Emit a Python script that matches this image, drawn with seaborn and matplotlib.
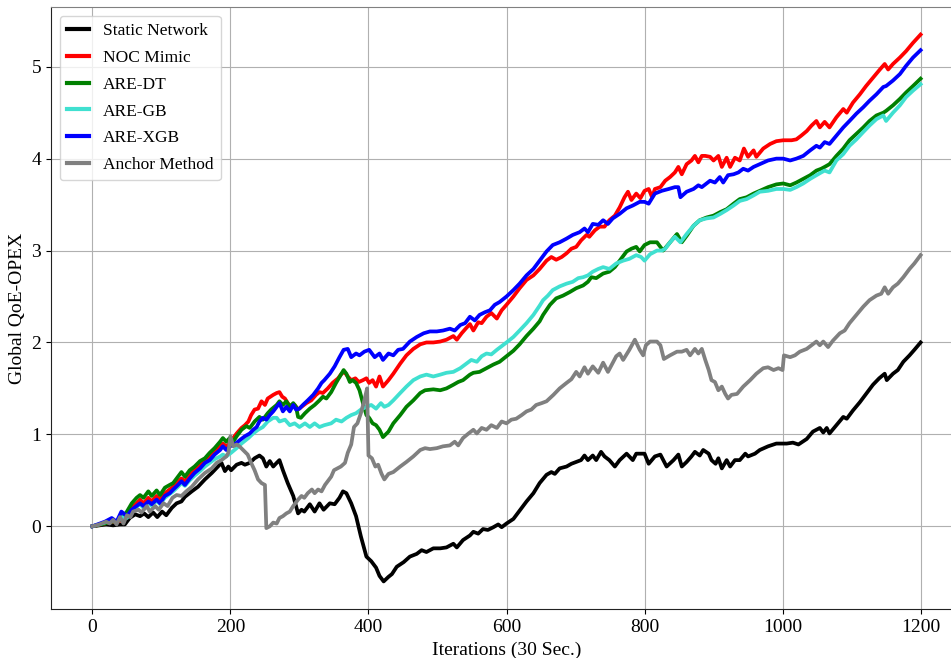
import matplotlib
matplotlib.use("Agg")
import matplotlib.pyplot as plt
import pandas as pd
import seaborn as sns

# ---- data (iteration, value) ----
static_network = [(0,0),(10,0.01),(20,0.02),(30,0.01),(40,0.02),(47,0.02),(54,0.09),(62,0.13),(69,0.11),(75,0.14),(81,0.10),(88,0.15),(94,0.10),(101,0.16),(107,0.12),(115,0.20),(122,0.25),(129,0.27),(134,0.32),(144,0.38),(153,0.43),(163,0.51),(173,0.58),(182,0.65),(187,0.69),(192,0.60),(197,0.65),(201,0.61),(209,0.67),(216,0.69),(221,0.67),(228,0.69),(235,0.74),(242,0.77),(247,0.74),(252,0.65),(257,0.71),(262,0.65),(267,0.69),(271,0.72),(276,0.61),(283,0.47),(291,0.33),(298,0.14),(303,0.18),(307,0.16),(315,0.24),(322,0.16),(329,0.25),(335,0.18),(344,0.25),(351,0.24),(358,0.31),(363,0.38),(368,0.36),(375,0.25),(382,0.11),(389,-0.11),(397,-0.33),(404,-0.38),(411,-0.45),(416,-0.54),(422,-0.60),(429,-0.55),(434,-0.52),(441,-0.44),(451,-0.39),(460,-0.33),(470,-0.30),(477,-0.26),(484,-0.28),(494,-0.24),(504,-0.24),(513,-0.23),(523,-0.19),(528,-0.23),(537,-0.15),(547,-0.10),(552,-0.06),(559,-0.08),(566,-0.03),(573,-0.04),(581,-0.01),(588,0.02),(593,-0.01),(600,0.03),(610,0.08),(619,0.17),(629,0.27),(639,0.36),(648,0.47),(658,0.56),(665,0.59),(670,0.57),(677,0.63),(687,0.65),(694,0.68),(701,0.70),(708,0.72),(713,0.77),(718,0.72),(725,0.77),(730,0.72),(737,0.81),(742,0.76),(749,0.72),(757,0.65),(764,0.72),(774,0.79),(783,0.72),(788,0.79),(800,0.79),(806,0.68),(815,0.76),(823,0.78),(832,0.65),(842,0.72),(849,0.78),(854,0.65),(861,0.70),(868,0.76),(873,0.81),(880,0.77),(885,0.83),(893,0.79),(897,0.72),(903,0.68),(907,0.74),(912,0.63),(919,0.72),(924,0.65),(931,0.72),(938,0.72),(946,0.79),(950,0.76),(960,0.79),(967,0.83),(979,0.87),(991,0.90),(1006,0.90),(1015,0.91),(1023,0.89),(1035,0.95),(1044,1.03),(1054,1.07),(1059,1.02),(1064,1.07),(1068,1.01),(1078,1.10),(1088,1.19),(1093,1.17),(1102,1.26),(1112,1.35),(1121,1.44),(1131,1.54),(1140,1.61),(1148,1.66),(1151,1.59),(1160,1.66),(1167,1.70),(1175,1.79),(1184,1.86),(1191,1.92),(1200,2.00)]

noc_mimic = [(0,0),(18,0.03),(28,0.05),(35,0.04),(42,0.07),(50,0.13),(57,0.20),(64,0.25),(69,0.29),(74,0.25),(81,0.31),(86,0.27),(93,0.33),(98,0.29),(105,0.36),(112,0.40),(117,0.43),(124,0.49),(129,0.52),(134,0.49),(141,0.56),(148,0.61),(156,0.67),(163,0.71),(170,0.76),(177,0.81),(185,0.87),(189,0.90),(194,0.87),(199,0.90),(204,0.96),(209,1.01),(216,1.07),(221,1.10),(226,1.14),(230,1.21),(235,1.27),(240,1.28),(245,1.36),(250,1.32),(254,1.39),(262,1.43),(267,1.45),(271,1.46),(275,1.41),(279,1.39),(283,1.34),(288,1.30),(293,1.32),(298,1.27),(303,1.30),(310,1.34),(317,1.37),(324,1.43),(329,1.46),(334,1.45),(341,1.50),(348,1.56),(356,1.61),(361,1.66),(365,1.68),(370,1.63),(375,1.59),(381,1.61),(386,1.57),(392,1.59),(397,1.61),(401,1.56),(406,1.59),(411,1.52),(416,1.63),(421,1.52),(429,1.59),(436,1.66),(446,1.77),(455,1.86),(465,1.93),(475,1.98),(484,2.00),(494,2.00),(504,2.01),(513,2.03),(523,2.07),(528,2.03),(535,2.10),(542,2.16),(547,2.20),(552,2.13),(559,2.22),(564,2.21),(571,2.28),(578,2.32),(586,2.26),(593,2.35),(600,2.41),(610,2.50),(619,2.59),(629,2.68),(639,2.73),(648,2.80),(658,2.89),(665,2.93),(672,2.90),(680,2.93),(687,2.97),(694,3.02),(701,3.04),(708,3.11),(716,3.17),(720,3.15),(728,3.22),(735,3.26),(742,3.26),(749,3.33),(757,3.38),(764,3.47),(771,3.58),(776,3.64),(781,3.55),(788,3.62),(794,3.57),(800,3.65),(806,3.67),(811,3.58),(815,3.67),(823,3.69),(830,3.76),(837,3.80),(844,3.85),(849,3.91),(854,3.83),(861,3.94),(868,3.98),(873,4.03),(878,3.96),(883,4.03),(888,4.03),(895,4.02),(900,3.98),(907,4.03),(912,3.91),(919,4.01),(924,3.91),(931,4.01),(938,3.98),(944,4.11),(950,4.02),(958,4.09),(962,4.02),(972,4.11),(982,4.16),(991,4.19),(1001,4.20),(1013,4.20),(1020,4.21),(1027,4.25),(1035,4.30),(1042,4.36),(1049,4.41),(1054,4.34),(1061,4.40),(1068,4.34),(1078,4.45),(1088,4.54),(1093,4.50),(1102,4.61),(1112,4.70),(1121,4.79),(1131,4.88),(1141,4.97),(1148,5.03),(1153,4.97),(1160,5.03),(1170,5.10),(1179,5.17),(1189,5.26),(1200,5.35)]

are_dt = [(0,0),(18,0.03),(28,0.05),(35,0.05),(42,0.08),(50,0.16),(57,0.25),(64,0.31),(69,0.34),(74,0.31),(81,0.38),(86,0.33),(93,0.39),(98,0.34),(105,0.42),(112,0.45),(117,0.47),(124,0.54),(129,0.59),(134,0.54),(141,0.61),(148,0.65),(156,0.71),(163,0.74),(170,0.80),(177,0.85),(185,0.92),(189,0.96),(194,0.92),(199,0.96),(204,0.92),(209,0.98),(216,1.05),(223,1.09),(228,1.07),(235,1.14),(242,1.19),(247,1.16),(254,1.23),(259,1.27),(267,1.32),(271,1.36),(276,1.32),(281,1.36),(286,1.30),(291,1.34),(295,1.30),(298,1.19),(302,1.18),(308,1.23),(315,1.28),(322,1.32),(329,1.37),(334,1.41),(339,1.39),(346,1.46),(353,1.56),(360,1.65),(364,1.70),(368,1.66),(373,1.57),(377,1.59),(382,1.56),(387,1.48),(392,1.34),(397,1.21),(401,1.18),(406,1.12),(411,1.10),(416,1.05),(421,0.97),(429,1.03),(436,1.12),(446,1.21),(455,1.30),(465,1.37),(475,1.45),(482,1.48),(494,1.49),(504,1.48),(513,1.50),(523,1.54),(530,1.57),(537,1.59),(547,1.65),(552,1.67),(561,1.68),(571,1.72),(581,1.76),(590,1.79),(600,1.85),(610,1.91),(619,1.98),(629,2.07),(639,2.15),(648,2.23),(653,2.30),(663,2.41),(672,2.48),(682,2.51),(692,2.55),(701,2.59),(711,2.62),(718,2.66),(723,2.71),(730,2.70),(740,2.75),(749,2.77),(757,2.82),(764,2.89),(774,2.99),(781,3.02),(788,3.04),(793,2.99),(800,3.06),(808,3.09),(818,3.09),(827,3.00),(837,3.09),(847,3.18),(854,3.09),(861,3.16),(871,3.27),(880,3.33),(890,3.36),(900,3.38),(910,3.42),(919,3.45),(929,3.51),(938,3.56),(948,3.58),(958,3.62),(967,3.65),(979,3.69),(991,3.72),(1001,3.73),(1011,3.71),(1020,3.74),(1030,3.78),(1040,3.82),(1049,3.87),(1056,3.89),(1061,3.91),(1068,3.94),(1078,4.03),(1088,4.11),(1097,4.20),(1107,4.27),(1117,4.34),(1126,4.41),(1136,4.47),(1146,4.50),(1150,4.52),(1160,4.58),(1170,4.65),(1179,4.72),(1189,4.79),(1200,4.87)]

are_gb = [(0,0),(18,0.04),(28,0.07),(35,0.05),(42,0.10),(50,0.09),(57,0.17),(64,0.21),(69,0.24),(74,0.20),(81,0.26),(86,0.22),(93,0.28),(98,0.24),(105,0.31),(112,0.35),(117,0.38),(124,0.43),(129,0.47),(134,0.44),(141,0.50),(148,0.55),(156,0.60),(163,0.65),(170,0.69),(177,0.73),(185,0.76),(189,0.78),(194,0.76),(201,0.80),(209,0.85),(216,0.90),(226,0.96),(233,1.01),(240,1.05),(247,1.08),(254,1.14),(262,1.18),(267,1.18),(271,1.14),(279,1.16),(286,1.10),(293,1.12),(300,1.08),(308,1.12),(315,1.08),(322,1.12),(329,1.08),(336,1.10),(346,1.12),(353,1.16),(361,1.14),(368,1.18),(375,1.21),(382,1.23),(389,1.27),(397,1.30),(404,1.32),(411,1.28),(418,1.34),(423,1.30),(429,1.32),(436,1.37),(446,1.45),(455,1.52),(465,1.59),(475,1.63),(484,1.65),(494,1.63),(504,1.65),(513,1.67),(523,1.68),(533,1.72),(542,1.77),(549,1.81),(557,1.79),(564,1.85),(571,1.88),(578,1.87),(586,1.92),(593,1.96),(600,2.00),(610,2.06),(619,2.13),(629,2.21),(639,2.30),(648,2.40),(653,2.46),(660,2.51),(667,2.57),(677,2.61),(687,2.64),(696,2.66),(704,2.70),(711,2.71),(718,2.73),(725,2.77),(733,2.80),(740,2.82),(749,2.80),(759,2.86),(769,2.89),(778,2.91),(788,2.95),(795,2.93),(800,2.89),(808,2.96),(818,3.00),(825,3.00),(830,3.02),(837,3.09),(844,3.15),(852,3.09),(861,3.18),(871,3.27),(880,3.33),(890,3.35),(900,3.36),(910,3.40),(919,3.44),(929,3.49),(938,3.54),(948,3.56),(958,3.60),(967,3.64),(979,3.65),(991,3.67),(1001,3.67),(1011,3.66),(1020,3.69),(1030,3.73),(1040,3.78),(1049,3.82),(1056,3.85),(1061,3.87),(1068,3.85),(1078,3.98),(1088,4.05),(1097,4.14),(1107,4.21),(1117,4.29),(1126,4.36),(1136,4.43),(1146,4.47),(1150,4.41),(1160,4.50),(1170,4.58),(1179,4.67),(1189,4.74),(1200,4.81)]

are_xgb = [(0,0),(18,0.05),(28,0.09),(35,0.05),(42,0.16),(50,0.11),(57,0.18),(64,0.22),(69,0.25),(74,0.22),(81,0.27),(86,0.24),(93,0.29),(98,0.25),(105,0.33),(112,0.36),(117,0.40),(124,0.45),(129,0.49),(134,0.45),(141,0.52),(148,0.58),(156,0.63),(163,0.69),(170,0.72),(177,0.78),(185,0.83),(189,0.87),(194,0.83),(199,0.87),(206,0.89),(214,0.94),(221,0.98),(228,1.01),(233,1.05),(238,1.08),(242,1.14),(247,1.18),(252,1.16),(257,1.21),(262,1.25),(267,1.30),(271,1.34),(276,1.25),(281,1.30),(286,1.25),(291,1.32),(295,1.27),(300,1.28),(305,1.32),(312,1.37),(320,1.43),(327,1.50),(332,1.56),(336,1.59),(344,1.66),(351,1.74),(358,1.84),(364,1.92),(370,1.93),(375,1.84),(382,1.88),(387,1.86),(394,1.90),(401,1.92),(409,1.84),(416,1.88),(421,1.81),(429,1.88),(436,1.86),(443,1.92),(450,1.93),(460,2.01),(470,2.06),(480,2.10),(489,2.12),(499,2.12),(508,2.13),(518,2.15),(525,2.13),(533,2.19),(540,2.21),(547,2.28),(554,2.24),(561,2.30),(569,2.33),(576,2.35),(583,2.41),(590,2.44),(600,2.50),(610,2.57),(619,2.64),(629,2.73),(639,2.80),(648,2.89),(658,2.99),(667,3.06),(677,3.09),(687,3.13),(696,3.17),(706,3.20),(713,3.24),(718,3.20),(725,3.29),(733,3.28),(740,3.33),(747,3.29),(754,3.35),(764,3.40),(774,3.46),(783,3.49),(793,3.53),(800,3.53),(806,3.51),(815,3.62),(825,3.65),(835,3.67),(844,3.69),(849,3.69),(852,3.58),(861,3.64),(871,3.67),(878,3.71),(883,3.69),(890,3.73),(895,3.76),(902,3.74),(909,3.80),(914,3.74),(921,3.82),(929,3.83),(936,3.85),(943,3.89),(950,3.87),(958,3.91),(967,3.94),(979,3.98),(991,4.00),(1001,4.00),(1011,3.98),(1020,4.00),(1030,4.03),(1040,4.09),(1049,4.14),(1054,4.12),(1061,4.18),(1068,4.16),(1078,4.25),(1088,4.34),(1097,4.41),(1107,4.49),(1117,4.56),(1126,4.63),(1136,4.70),(1146,4.78),(1150,4.79),(1160,4.85),(1170,4.92),(1179,5.01),(1189,5.10),(1200,5.18)]

anchor_method = [(0,0),(10,0.02),(20,0.05),(25,0.03),(30,0.07),(35,0.02),(40,0.10),(45,0.03),(50,0.12),(55,0.10),(59,0.16),(67,0.18),(71,0.15),(79,0.22),(83,0.16),(91,0.22),(96,0.18),(103,0.25),(109,0.22),(116,0.31),(122,0.34),(129,0.33),(136,0.38),(144,0.43),(153,0.51),(163,0.58),(173,0.63),(180,0.69),(187,0.72),(194,0.76),(197,0.80),(200,0.98),(204,0.87),(209,0.89),(213,0.87),(221,0.81),(225,0.78),(230,0.69),(235,0.61),(240,0.51),(245,0.47),(250,0.45),(252,-0.02),(257,0.0),(262,0.04),(267,0.03),(271,0.09),(276,0.11),(281,0.14),(286,0.16),(291,0.22),(298,0.29),(303,0.33),(307,0.31),(312,0.36),(318,0.40),(322,0.36),(327,0.40),(332,0.38),(337,0.45),(341,0.49),(346,0.54),(350,0.61),(355,0.63),(360,0.65),(366,0.69),(370,0.80),(375,0.89),(379,1.08),(384,1.12),(389,1.23),(394,1.37),(398,1.50),(400,0.77),(405,0.74),(410,0.65),(414,0.67),(419,0.57),(423,0.51),(429,0.57),(436,0.59),(446,0.65),(455,0.70),(465,0.76),(475,0.83),(482,0.85),(489,0.84),(499,0.85),(508,0.87),(518,0.88),(525,0.92),(530,0.88),(537,0.96),(545,1.01),(552,1.05),(557,1.01),(564,1.07),(571,1.05),(578,1.10),(586,1.07),(593,1.14),(600,1.12),(607,1.16),(614,1.17),(622,1.21),(629,1.25),(636,1.27),(643,1.32),(651,1.34),(658,1.36),(668,1.43),(677,1.50),(687,1.56),(694,1.60),(701,1.68),(706,1.63),(713,1.73),(718,1.66),(725,1.74),(733,1.67),(740,1.78),(747,1.68),(754,1.78),(759,1.85),(764,1.88),(769,1.81),(778,1.92),(786,2.03),(793,1.92),(798,1.86),(802,1.97),(808,2.01),(818,2.01),(823,1.97),(828,1.82),(837,1.86),(847,1.90),(854,1.90),(861,1.92),(866,1.86),(873,1.93),(878,1.88),(883,1.93),(888,1.81),(893,1.70),(897,1.59),(902,1.57),(907,1.48),(912,1.52),(917,1.44),(921,1.39),(926,1.43),(934,1.44),(943,1.52),(953,1.59),(962,1.66),(972,1.72),(979,1.73),(987,1.70),(994,1.72),(1000,1.70),(1002,1.86),(1011,1.84),(1018,1.86),(1025,1.90),(1035,1.93),(1042,1.97),(1049,2.01),(1054,1.97),(1059,2.01),(1066,1.95),(1073,2.02),(1083,2.10),(1090,2.13),(1097,2.21),(1107,2.30),(1117,2.39),(1126,2.46),(1136,2.51),(1143,2.53),(1148,2.60),(1153,2.53),(1160,2.60),(1167,2.64),(1175,2.71),(1184,2.80),(1191,2.86),(1200,2.95)]

series_names = ["Static Network", "NOC Mimic", "ARE-DT", "ARE-GB", "ARE-XGB", "Anchor Method"]
series_data = [static_network, noc_mimic, are_dt, are_gb, are_xgb, anchor_method]
series_colors = ["#000000", "#ff0000", "#008000", "#40e0d0", "#0000ff", "#808080"]
x_ticks = [0, 200, 400, 600, 800, 1000, 1200]
y_ticks = [0, 1, 2, 3, 4, 5]

plt.rcParams["font.family"] = ["Liberation Serif", "DejaVu Serif"]

fig = plt.figure(figsize=(9.51, 6.58), dpi=100)
ax = fig.add_axes([51 / 951, 49 / 658, 911 / 951, 602 / 658])

for name, pts, color in zip(series_names, series_data, series_colors):
    df = pd.DataFrame(pts, columns=["it", "val"])
    sns.lineplot(data=df, x="it", y="val", color=color, linewidth=2.7,
                 label=name, ax=ax, sort=False, estimator=None)

ax.set_xlim(-60, 1260)
ax.set_ylim(-0.9, 5.65)
ax.set_xticks(x_ticks)
ax.set_yticks(y_ticks)
ax.tick_params(labelsize=14)
ax.grid(True, color="#b0b0b0", linewidth=0.8)
ax.set_xlabel("Iterations (30 Sec.)", fontsize=14)
ax.set_ylabel("Global QoE-OPEX", fontsize=14)
ax.spines["top"].set_color("#808080")
for s in ["left", "bottom"]:
    ax.spines[s].set_color("#222222")

leg = ax.legend(loc="upper left", fontsize=12.5, handlelength=1.3,
                labelspacing=0.62, framealpha=0.8)
for line in leg.get_lines():
    line.set_linewidth(3)

fig.savefig("out.png", dpi=100)
